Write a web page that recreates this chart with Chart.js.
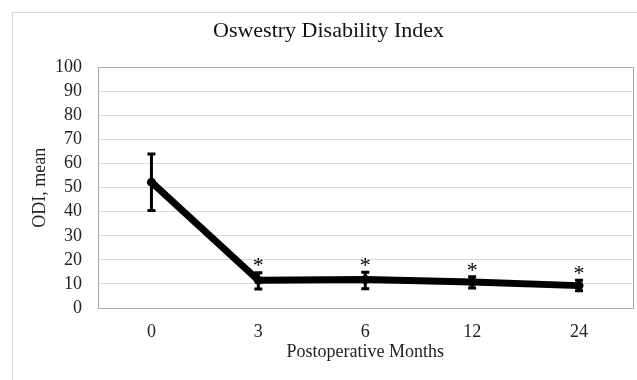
<!DOCTYPE html>
<html lang="en">
<head>
    <meta charset="UTF-8">
    <title>Oswestry Disability Index</title>
    <script src="https://cdn.jsdelivr.net/npm/chart.js"></script>
    <style>
        html, body { margin: 0; padding: 0; background: #fff; }
        #wrap { width: 637px; height: 380px; position: relative; }
    </style>
</head>
<body>
<div id="wrap">
    <canvas id="odiChart"></canvas>
</div>
<script>
    // values
    var months = ["0", "3", "6", "12", "24"];
    var odiMean = [52.3, 11.5, 11.8, 10.8, 9.3];
    var odiUpper = [64.0, 14.7, 14.9, 13.0, 11.5];
    var odiLower = [40.5, 7.9, 8.0, 8.3, 7.2];
    var significance = ["", "*", "*", "*", "*"];

    var serif = "'Liberation Serif', 'Times New Roman', serif";

    // frame around the whole chart and round the plot area
    var framePlugin = {
        id: "frame",
        beforeDraw: function(chart) {
            var ctx = chart.ctx;
            ctx.save();
            ctx.fillStyle = "#fff";
            ctx.fillRect(0, 0, chart.width, chart.height);
            ctx.strokeStyle = "#d9d9d9";
            ctx.lineWidth = 1;
            ctx.strokeRect(12.5, 12.5, 700, 500);
            ctx.restore();
        },
        beforeDatasetsDraw: function(chart) {
            var a = chart.chartArea;
            var ctx = chart.ctx;
            ctx.save();
            ctx.strokeStyle = "#a6a6a6";
            ctx.lineWidth = 1;
            ctx.strokeRect(Math.round(a.left) + 0.5, Math.round(a.top) + 0.5,
                Math.round(a.right - a.left), Math.round(a.bottom - a.top));
            ctx.restore();
        }
    };

    // error bars and asterisks
    var errorPlugin = {
        id: "errorBars",
        afterDatasetsDraw: function(chart) {
            var ctx = chart.ctx;
            var x = chart.scales.x;
            var y = chart.scales.y;
            ctx.save();
            ctx.strokeStyle = "#000";
            ctx.lineWidth = 3;
            for (var i = 0; i < odiMean.length; i++) {
                var px = x.getPixelForValue(i);
                var top = y.getPixelForValue(odiUpper[i]);
                var bot = y.getPixelForValue(odiLower[i]);
                ctx.beginPath();
                ctx.moveTo(px, top);
                ctx.lineTo(px, bot);
                ctx.moveTo(px - 4, top);
                ctx.lineTo(px + 4, top);
                ctx.moveTo(px - 4, bot);
                ctx.lineTo(px + 4, bot);
                ctx.stroke();
                if (significance[i]) {
                    ctx.fillStyle = "#000";
                    ctx.font = "22px " + serif;
                    ctx.textAlign = "center";
                    ctx.textBaseline = "middle";
                    ctx.fillText(significance[i], px, top - 6);
                }
            }
            ctx.restore();
        }
    };

    new Chart(document.getElementById("odiChart"), {
        type: "line",
        data: {
            labels: months,
            datasets: [{
                label: "ODI",
                data: odiMean,
                borderColor: "#000",
                backgroundColor: "#000",
                borderWidth: 7,
                pointRadius: 4.5,
                pointBackgroundColor: "#000",
                pointBorderWidth: 0,
                tension: 0
            }]
        },
        options: {
            responsive: true,
            maintainAspectRatio: false,
            animation: false,
            layout: {
                padding: { left: 24, right: 4, top: 0, bottom: 19 }
            },
            plugins: {
                legend: { display: false },
                tooltip: { enabled: false },
                title: {
                    display: true,
                    text: "Oswestry Disability Index",
                    color: "#111",
                    font: { family: serif, size: 22, weight: "normal", lineHeight: 1.2 },
                    padding: { top: 18, bottom: 23 }
                }
            },
            scales: {
                x: {
                    offset: true,
                    afterFit: function(scale) { scale.height = 53; },
                    grid: { display: false, drawTicks: false },
                    border: { display: true, color: "#a6a6a6" },
                    ticks: {
                        color: "#222",
                        padding: 13,
                        font: { family: serif, size: 18 }
                    },
                    title: {
                        display: true,
                        text: "Postoperative Months",
                        color: "#222",
                        font: { family: serif, size: 18, lineHeight: 1 },
                        padding: 0
                    }
                },
                y: {
                    min: 0,
                    max: 100,
                    afterFit: function(scale) { scale.width = 74; },
                    grid: { color: "#d9d9d9", drawTicks: false },
                    border: { display: true, color: "#a6a6a6" },
                    ticks: {
                        stepSize: 10,
                        autoSkip: false,
                        color: "#222",
                        padding: 16,
                        font: { family: serif, size: 18 }
                    },
                    title: {
                        display: true,
                        text: "ODI, mean",
                        color: "#222",
                        font: { family: serif, size: 18 },
                        padding: { top: 5, bottom: 0 }
                    }
                }
            }
        },
        plugins: [framePlugin, errorPlugin]
    });
</script>
</body>
</html>
